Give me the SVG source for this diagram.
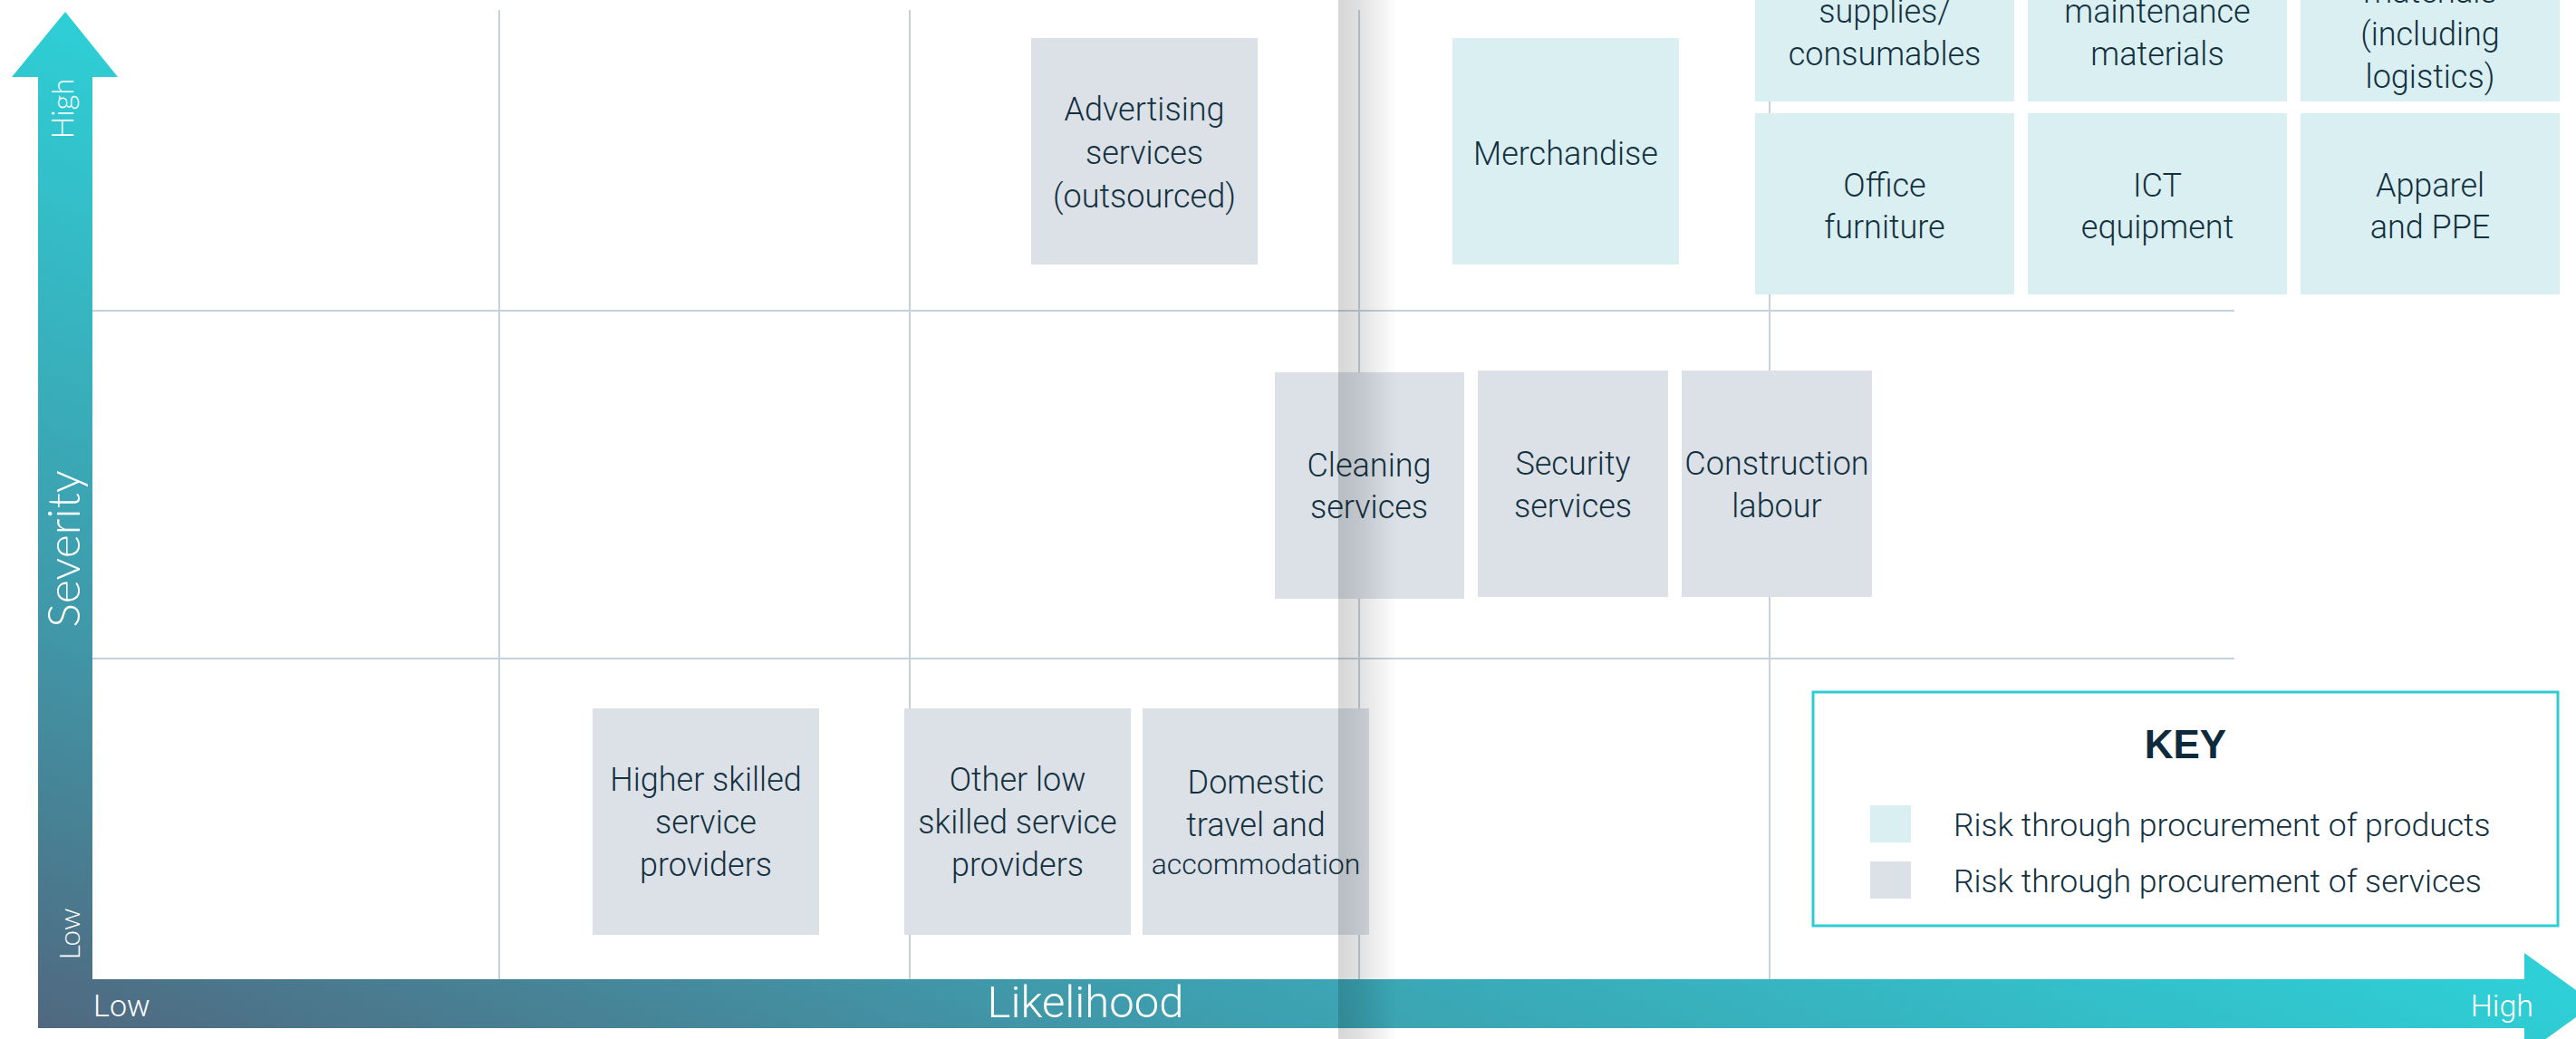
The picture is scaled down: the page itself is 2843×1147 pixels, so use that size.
<svg xmlns="http://www.w3.org/2000/svg" width="2843" height="1147" viewBox="0 0 2843 1147">
  <defs>
    <linearGradient id="axisGrad" gradientUnits="userSpaceOnUse" x1="42" y1="1135" x2="429" y2="155">
      <stop offset="0" stop-color="#50687f"/>
      <stop offset="0.45" stop-color="#3e9dad"/>
      <stop offset="1" stop-color="#2ecfd6"/>
    </linearGradient>
    <linearGradient id="foldGrad" x1="0" y1="0" x2="1" y2="0">
      <stop offset="0" stop-color="#000" stop-opacity="0.16"/>
      <stop offset="0.35" stop-color="#000" stop-opacity="0.12"/>
      <stop offset="1" stop-color="#000" stop-opacity="0"/>
    </linearGradient>
    <style>
      .grid { stroke: #c6d2db; stroke-width: 2; fill: none; }
      .svc { fill: #dbe1e7; }
      .prd { fill: #daeff1; }
      .lbl { font-family: Roboto, "Liberation Sans", sans-serif; font-weight: 300; font-size: 36px; fill: #13303f; text-anchor: middle; }
      .small { font-size: 32px; }
      .axis { font-family: Roboto, "Liberation Sans", sans-serif; font-weight: 300; fill: #ffffff; }
      .vaxis { font-family: Lato, "Open Sans", sans-serif; font-weight: 300; fill: #ffffff; text-anchor: middle; }
      .keytitle { font-family: "Liberation Sans", Arial, sans-serif; font-weight: bold; font-size: 44px; fill: #0f2a3a; text-anchor: middle; }
      .keytext { font-family: Roboto, "Liberation Sans", sans-serif; font-weight: 300; font-size: 35.6px; fill: #13303f; }
    </style>
  </defs>

  <rect width="2843" height="1147" fill="#ffffff"/>

  <!-- quadrant grid -->
  <g id="grid">
    <line class="grid" x1="551" y1="11" x2="551" y2="1081"/>
    <line class="grid" x1="1004" y1="11" x2="1004" y2="1081"/>
    <line class="grid" x1="1500" y1="11" x2="1500" y2="1081"/>
    <line class="grid" x1="1953" y1="11" x2="1953" y2="1081"/>
    <line class="grid" x1="102" y1="343" x2="2466" y2="343"/>
    <line class="grid" x1="102" y1="727" x2="2466" y2="727"/>
  </g>

  <!-- axes -->
  <g id="axes">
    <path fill="url(#axisGrad)" d="M42 85 L13 85 L72 13 L130 85 L102 85 L102 1081 L2786 1081 L2786 1052 L2864 1108 L2786 1164 L2786 1135 L42 1135 Z"/>
    <text class="vaxis" font-size="33" transform="translate(81 120) rotate(-90)">High</text>
    <text class="vaxis" font-size="50" transform="translate(88 606) rotate(-90)">Severity</text>
    <text class="vaxis" font-size="32" transform="translate(88 1031) rotate(-90)">Low</text>
    <text class="axis" font-size="34" x="103" y="1122">Low</text>
    <text class="axis" font-size="49" x="1198" y="1123" text-anchor="middle">Likelihood</text>
    <text class="axis" font-size="34" x="2796" y="1122" text-anchor="end">High</text>
  </g>

  <!-- risk categories -->
  <g id="advertising">
    <rect class="svc" x="1138" y="42" width="250" height="250"/>
    <text class="lbl" x="1263" y="133">Advertising</text>
    <text class="lbl" x="1263" y="181">services</text>
    <text class="lbl" x="1263" y="229">(outsourced)</text>
  </g>
  <g id="merchandise">
    <rect class="prd" x="1603" y="42" width="250" height="250"/>
    <text class="lbl" x="1728" y="182">Merchandise</text>
  </g>
  <g id="office-supplies">
    <rect class="prd" x="1937" y="-88" width="286" height="200"/>
    <text class="lbl" x="2080" y="25">supplies/</text>
    <text class="lbl" x="2080" y="72">consumables</text>
  </g>
  <g id="maintenance-materials">
    <rect class="prd" x="2238" y="-88" width="286" height="200"/>
    <text class="lbl" x="2381" y="25">maintenance</text>
    <text class="lbl" x="2381" y="72">materials</text>
  </g>
  <g id="raw-materials">
    <rect class="prd" x="2539" y="-88" width="286" height="200"/>
    <text class="lbl" x="2682" y="3">materials</text>
    <text class="lbl" x="2682" y="50">(including</text>
    <text class="lbl" x="2682" y="97">logistics)</text>
  </g>
  <g id="office-furniture">
    <rect class="prd" x="1937" y="125" width="286" height="200"/>
    <text class="lbl" x="2080" y="217">Office</text>
    <text class="lbl" x="2080" y="263">furniture</text>
  </g>
  <g id="ict-equipment">
    <rect class="prd" x="2238" y="125" width="286" height="200"/>
    <text class="lbl" x="2381" y="217">ICT</text>
    <text class="lbl" x="2381" y="263">equipment</text>
  </g>
  <g id="apparel-ppe">
    <rect class="prd" x="2539" y="125" width="286" height="200"/>
    <text class="lbl" x="2682" y="217">Apparel</text>
    <text class="lbl" x="2682" y="263">and PPE</text>
  </g>
  <g id="cleaning">
    <rect class="svc" x="1407" y="411" width="209" height="250"/>
    <text class="lbl" x="1511" y="526">Cleaning</text>
    <text class="lbl" x="1511" y="572">services</text>
  </g>
  <g id="security">
    <rect class="svc" x="1631" y="409" width="210" height="250"/>
    <text class="lbl" x="1736" y="524">Security</text>
    <text class="lbl" x="1736" y="571">services</text>
  </g>
  <g id="construction">
    <rect class="svc" x="1856" y="409" width="210" height="250"/>
    <text class="lbl" x="1961" y="524">Construction</text>
    <text class="lbl" x="1961" y="571">labour</text>
  </g>
  <g id="higher-skilled">
    <rect class="svc" x="654" y="782" width="250" height="250"/>
    <text class="lbl" x="779" y="873">Higher skilled</text>
    <text class="lbl" x="779" y="920">service</text>
    <text class="lbl" x="779" y="967">providers</text>
  </g>
  <g id="other-low-skilled">
    <rect class="svc" x="998" y="782" width="250" height="250"/>
    <text class="lbl" x="1123" y="873">Other low</text>
    <text class="lbl" x="1123" y="920">skilled service</text>
    <text class="lbl" x="1123" y="967">providers</text>
  </g>
  <g id="domestic-travel">
    <rect class="svc" x="1261" y="782" width="250" height="250"/>
    <text class="lbl" x="1386" y="876">Domestic</text>
    <text class="lbl" x="1386" y="923">travel and</text>
    <text class="lbl small" x="1386" y="965">accommodation</text>
  </g>

  <!-- legend -->
  <g id="key">
    <rect x="2001" y="764" width="822" height="258" fill="#ffffff" stroke="#2ecdd4" stroke-width="3"/>
    <text class="keytitle" x="2412" y="837">KEY</text>
    <rect class="prd" x="2064" y="889" width="45" height="41"/>
    <text class="keytext" x="2156" y="923">Risk through procurement of products</text>
    <rect class="svc" x="2064" y="951" width="45" height="41"/>
    <text class="keytext" x="2156" y="985">Risk through procurement of services</text>
  </g>

  <!-- page fold shading -->
  <rect x="1477" y="0" width="65" height="1147" fill="url(#foldGrad)"/>
</svg>
